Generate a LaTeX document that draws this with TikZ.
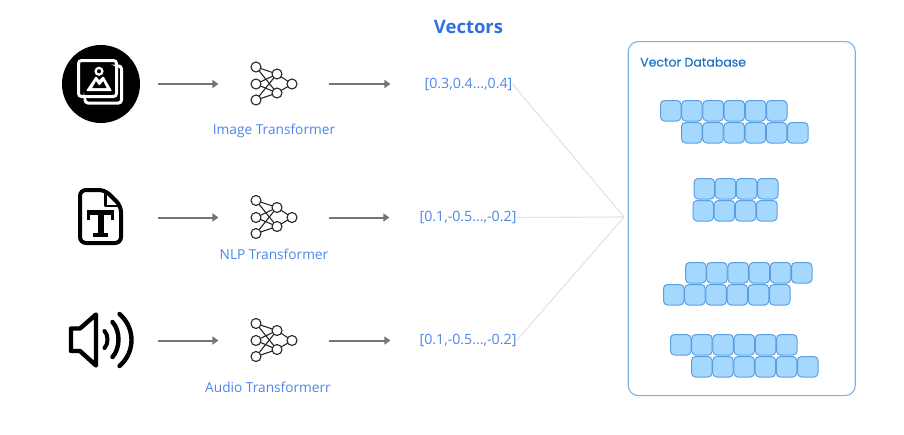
\documentclass[tikz,border=0pt]{standalone}
\usepackage{fontspec}
\setmainfont{Open Sans}
\newfontfamily\handfont[FakeBold=0.5]{Poppins}
\usetikzlibrary{arrows.meta}
\definecolor{txtblue}{HTML}{4C86E8}
\definecolor{titleblue}{HTML}{2F6FE4}
\definecolor{hand}{HTML}{1F74C4}
\definecolor{dbline}{HTML}{7FB0E6}
\definecolor{cellfill}{HTML}{A5D8FF}
\definecolor{cellline}{HTML}{5C9FE0}
\definecolor{flowgray}{HTML}{757575}
\definecolor{fanline}{HTML}{E3E3E3}
\tikzset{
  x=1pt,y=-1pt,
  flow/.style={draw=flowgray,line width=2pt,-{Triangle[length=6pt,width=8pt]}},
  fan/.style={draw=fanline,line width=1.1pt},
  neuron/.style={circle,draw=black!85,line width=1.1pt,fill=white,minimum size=10pt,inner sep=0pt},
  synapse/.style={draw=black!85,line width=1.1pt},
  caption/.style={text=txtblue,font=\fontsize{13.7}{15}\selectfont,inner sep=0pt},
  vectxt/.style={text=txtblue,font=\fontsize{14.2}{15}\selectfont,inner sep=0pt},
  cell/.style={draw=cellline,fill=cellfill,line width=1pt,rounded corners=4pt,minimum size=20.5pt,inner sep=0pt}
}
\newcommand{\neuralnet}[3]{%
  \begin{scope}[shift={(#2,#3)},name prefix=#1-]
    \foreach \u/\v/\px/\py/\qx/\qy in {c/e/-18/-17/3/-10,c/f/-18/-17/3/9,b/e/-18/0/3/-10,b/f/-18/0/3/9,d/e/-18/16/3/-10,d/f/-18/16/3/9,e/g/3/-10/18/0,f/g/3/9/18/0}{
      \draw[synapse] (\px,\py) -- (\qx,\qy);
    }
    \foreach \a/\px/\py in {c/-18/-17,d/-18/16,e/3/-10,f/3/9,b/-18/0,g/18/0}{
      \node[neuron] (\a) at (\px,\py) {};
    }
  \end{scope}}
\newcommand{\cellrow}[4]{% name, x of first left edge, y top, count
  \foreach \k in {1,...,#4}{
    \node[cell,anchor=north west] (#1-\k) at ({#2+(\k-1)*21.2},#3) {};
  }}
\begin{document}
\begin{tikzpicture}
\useasboundingbox (0,0) rectangle (904,434);
% title
\node[text=titleblue,font=\fontsize{18.5}{20}\selectfont\bfseries,inner sep=0pt] (title) at (468.5,27) {Vectors};

% image icon
\node[circle,fill=black,minimum size=78pt,inner sep=0pt] (img) at (101,84) {};
\draw[white,line width=3pt,rounded corners=3pt] (78.5,60.5) rectangle (116.5,96.5);
\draw[white,line width=3pt,rounded corners=3pt,line cap=round] (120,66) -- (121.5,66) -- (121.5,103) -- (85,103) -- (85,101);
\draw[white,line width=2.2pt] (99,71.3) circle (3.4pt);
\fill[white,rounded corners=1pt] (86,91) -- (96,76) -- (99.3,80.3) -- (103.3,76) -- (112,91) -- cycle;
\fill[black] (92.3,88) -- (96,81.3) -- (99.3,85.7) -- (103.3,81.3) -- (106.5,88) -- cycle;

% text file icon
\node[minimum width=45pt,minimum height=57pt,inner sep=0pt] (doc) at (101,217.5) {};
\draw[black,line width=4pt,rounded corners=6pt,line join=round] (105,190) -- (80,190) -- (80,243) -- (121,243) -- (121,206) -- cycle;
\draw[black,line width=2.6pt,line join=round] (105.5,191) -- (105.5,206) -- (120,206);
\fill[black] (87,210) rectangle (114,215);
\fill[black] (87,210) rectangle (90,220);
\fill[black] (111,210) rectangle (114,220);
\fill[black] (98,212) rectangle (103.5,235);
\fill[black] (93,233) rectangle (108,237);

% speaker icon
\node[minimum width=66pt,minimum height=56pt,inner sep=0pt] (spk) at (101,340.5) {};
\draw[black,line width=4.4pt,line join=round,line cap=round] (71,328.5) -- (80,328.5) -- (96,314.5) -- (96,365.5) -- (80,351) -- (71,351) -- cycle;
\draw[black,line width=4pt,line cap=round] (104.5,331) .. controls (108.5,335) and (108.5,344) .. (104.5,348);
\draw[black,line width=4.4pt,line cap=round] (112.5,322) .. controls (120.5,331) and (120.5,348) .. (112.5,357);
\draw[black,line width=4.4pt,line cap=round] (119.5,314) .. controls (135.5,328) and (135.5,352) .. (119.5,366);

% networks
\neuralnet{n1}{274}{84}
\neuralnet{n2}{274}{217.5}
\neuralnet{n3}{274}{340.5}

% captions
\node[caption] (c1) at (274,131) {Image Transformer};
\node[caption] (c2) at (274,254) {NLP Transformer};
\node[caption] (c3) at (268,387) {Audio Transformerr};

% vectors
\node[vectxt] (v1) at (468.5,84) {[0.3,0.4...,0.4]};
\node[vectxt] (v2) at (468,217.5) {[0.1,-0.5...,-0.2]};
\node[vectxt] (v3) at (468,340.5) {[0.1,-0.5...,-0.2]};

% arrows
\draw[flow,shorten <=18pt,shorten >=32pt] (img) -- (n1-b);
\draw[flow,shorten <=34.5pt,shorten >=32pt] (doc) -- (n2-b);
\draw[flow,shorten <=24pt,shorten >=32pt] (spk) -- (n3-b);
\draw[flow,shorten <=31pt,shorten >=34pt] (n1-g) -- (v1);
\draw[flow,shorten <=31pt,shorten >=30pt] (n2-g) -- (v2);
\draw[flow,shorten <=31pt,shorten >=29pt] (n3-g) -- (v3);

% database
\node[draw=dbline,line width=1.1pt,rounded corners=10pt,minimum width=227pt,minimum height=354pt,inner sep=0pt,anchor=north west] (db) at (627.7,41) {};
\node[text=hand,font=\handfont\fontsize{12.5}{14}\selectfont,inner sep=0pt,anchor=west] (dbt) at (640,62) {Vector Database};
\coordinate (hub) at (624,217);
\draw[fan] (v1.east) -- (hub);
\draw[fan] (v2.east) -- (hub);
\draw[fan] (v3.east) -- (hub);

\cellrow{a1}{660}{100}{6}
\cellrow{a2}{681}{122}{6}
\cellrow{b1}{693.5}{178}{4}
\cellrow{b2}{692.5}{200}{4}
\cellrow{d1}{685}{262}{6}
\cellrow{d2}{663}{284}{6}
\cellrow{e1}{670}{334}{6}
\cellrow{e2}{691}{356}{6}
\end{tikzpicture}
\end{document}
